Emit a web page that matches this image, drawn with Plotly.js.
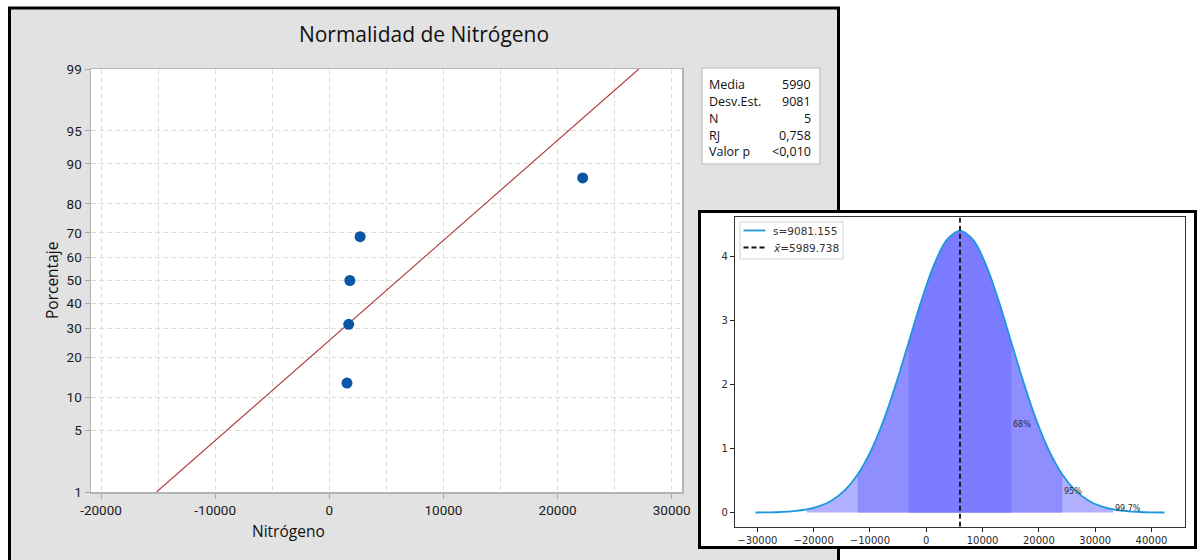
<!DOCTYPE html>
<html>
<head>
<meta charset="utf-8">
<script src="https://cdn.plot.ly/plotly-3.0.1.min.js"></script>
<style>
  html, body { margin: 0; padding: 0; background: #ffffff; }
  #chart { width: 1197px; height: 560px; }
</style>
</head>
<body>
<div id="chart"></div>
<script>
// ---- Normal probability plot: Nitrógeno ----
const nitrogeno = [1550, 1700, 1800, 2700, 22200];
const porcentaje = [12.96, 31.48, 50.00, 68.52, 87.04];
// fitted reference line (ends at 1 % and 99 %)
const ajusteX = [-15135, 27115];
const ajusteP = [1, 99];
const probTicks = [1, 5, 10, 20, 30, 40, 50, 60, 70, 80, 90, 95, 99];
const probTickText = ['1', '5', '10', '20', '30', '40', '50', '60', '70', '80', '90', '95', '99'];
const xTicksL = [-20000, -10000, 0, 10000, 20000, 30000];
const xTickTextL = ['-20000', '-10000', '0', '10000', '20000', '30000'];
const xGridL = [-20000, -15000, -10000, -5000, 0, 5000, 10000, 15000, 20000, 25000, 30000];
const statNames = ['Media', 'Desv.Est.', 'N', 'RJ', 'Valor p'];
const statValues = ['5990', '9081', '5', '0,758', '<0,010'];

// ---- Normal density (×1e5) with 68 / 95 / 99.7 % bands ----
const media = 5989.738;
const desv = 9081.155;
const curvaX = [-30335, -28065, -25794, -23524, -21254, -18983, -16713, -14443, -12173,
                -9902, -7632, -5362, -3091, -821, 1449, 3719, 5990, 8260, 10530, 12801,
                15071, 17341, 19612, 21882, 24152, 26422, 28693, 30963, 33233, 35504,
                37774, 40044, 42314];
const curvaY = [0.0015, 0.0039, 0.0096, 0.0223, 0.0488, 0.100, 0.193, 0.350, 0.595,
                0.950, 1.426, 2.011, 2.665, 3.316, 3.877, 4.258, 4.393, 4.258, 3.877, 3.316,
                2.665, 2.011, 1.426, 0.950, 0.595, 0.350, 0.193, 0.100, 0.0488, 0.0223,
                0.0096, 0.0039, 0.0015];
const bandaLo = [-21254, -12173, -3091];
const bandaHi = [33233, 24152, 15071];
const bandaColor = ['#b1b1ff', '#8e8eff', '#7b7bff'];
const bandaTexto = ['99.7%', '95%', '68%'];
const bandaTextoY = [0.07, 0.33, 1.38];
const xTicksR = [-30000, -20000, -10000, 0, 10000, 20000, 30000, 40000];
const xTickTextR = ['\u221230000', '\u221220000', '\u221210000', '0', '10000', '20000', '30000', '40000'];
const yRangeR = [-0.2197, 4.6128];
const leyenda = ['s=' + desv.toFixed(3), '<i>x\u0304</i>=' + media.toFixed(3)];

// inverse standard normal CDF (Acklam) for the probability axis
function probit(p) {
  const a = [-3.969683028665376e+01, 2.209460984245205e+02, -2.759285104469687e+02,
             1.383577518672690e+02, -3.066479806614716e+01, 2.506628277459239e+00];
  const b = [-5.447609879822406e+01, 1.615858368580409e+02, -1.556989798598866e+02,
             6.680131188771972e+01, -1.328068155288572e+01];
  const c = [-7.784894002430293e-03, -3.223964580411365e-01, -2.400758277161838e+00,
             -2.549732539343734e+00, 4.374664141464968e+00, 2.938163982698783e+00];
  const d = [7.784695709041462e-03, 3.224671290700398e-01, 2.445134137142996e+00,
             3.754408661907416e+00];
  const pl = 0.02425, ph = 1 - pl;
  let q, r;
  if (p < pl) {
    q = Math.sqrt(-2 * Math.log(p));
    return (((((c[0]*q+c[1])*q+c[2])*q+c[3])*q+c[4])*q+c[5]) / ((((d[0]*q+d[1])*q+d[2])*q+d[3])*q+1);
  }
  if (p <= ph) {
    q = p - 0.5; r = q * q;
    return (((((a[0]*r+a[1])*r+a[2])*r+a[3])*r+a[4])*r+a[5])*q / (((((b[0]*r+b[1])*r+b[2])*r+b[3])*r+b[4])*r+1);
  }
  q = Math.sqrt(-2 * Math.log(1 - p));
  return -(((((c[0]*q+c[1])*q+c[2])*q+c[3])*q+c[4])*q+c[5]) / ((((d[0]*q+d[1])*q+d[2])*q+d[3])*q+1);
}
const z = pct => probit(pct / 100);

// pixel helpers for the 1197 x 560 canvas
const W = 1197, H = 560;
const PX = v => v / W;
const PY = v => 1 - v / H;

const fTick = 'Roboto, Arial, sans-serif';
const fTitle = 'Open Sans, Noto Sans, sans-serif';
const fMpl = 'DejaVu Sans, sans-serif';

const traces = [];

// left panel: fitted line and observations
traces.push({
  x: ajusteX, y: ajusteP.map(z), xaxis: 'x', yaxis: 'y',
  mode: 'lines', line: { color: '#b03535', width: 1.1 }, hoverinfo: 'skip'
});
traces.push({
  x: nitrogeno, y: porcentaje.map(z), xaxis: 'x', yaxis: 'y',
  mode: 'markers', marker: { color: '#0a55a6', size: 11 }, hoverinfo: 'skip'
});

// right panel: shaded bands (widest first)
bandaLo.forEach((lo, i) => {
  const hi = bandaHi[i];
  const bx = [], by = [];
  curvaX.forEach((xv, j) => { if (xv >= lo && xv <= hi) { bx.push(xv); by.push(curvaY[j]); } });
  traces.push({
    x: bx, y: by, xaxis: 'x2', yaxis: 'y2',
    mode: 'lines', line: { width: 0, shape: 'spline' },
    fill: 'tozeroy', fillcolor: bandaColor[i], hoverinfo: 'skip'
  });
});
traces.push({
  x: curvaX, y: curvaY, xaxis: 'x2', yaxis: 'y2',
  mode: 'lines', line: { color: '#1b98de', width: 1.8, shape: 'spline' }, hoverinfo: 'skip'
});
traces.push({
  x: [media, media], y: yRangeR, xaxis: 'x2', yaxis: 'y2',
  mode: 'lines', line: { color: '#111111', width: 1.8, dash: '5px,3px' }, hoverinfo: 'skip'
});

const shapes = [
  // left panel background and frame
  { type: 'rect', xref: 'paper', yref: 'paper', layer: 'below',
    x0: PX(9.5), x1: PX(838.5), y0: PY(8), y1: PY(620),
    fillcolor: '#e2e2e2', line: { color: '#000000', width: 3 } },
  // left plot area
  { type: 'rect', xref: 'x domain', yref: 'y domain', layer: 'below',
    x0: 0, x1: 1, y0: 0, y1: 1, fillcolor: '#ffffff', line: { width: 0 } },
  // statistics box
  { type: 'rect', xref: 'paper', yref: 'paper', layer: 'below',
    x0: PX(702), x1: PX(820), y0: PY(68), y1: PY(164),
    fillcolor: '#ffffff', line: { color: '#b8b8b8', width: 1 } },
  // right panel background and frame
  { type: 'rect', xref: 'paper', yref: 'paper', layer: 'below',
    x0: PX(699.5), x1: PX(1195.5), y0: PY(211.5), y1: PY(547.5),
    fillcolor: '#ffffff', line: { color: '#000000', width: 3 } },
  // legend box of the right panel
  { type: 'rect', xref: 'paper', yref: 'paper', layer: 'above',
    x0: PX(740), x1: PX(843), y0: PY(222), y1: PY(259),
    fillcolor: 'rgba(255,255,255,0.85)', line: { color: '#d2d2d2', width: 1 } },
  // legend samples
  { type: 'line', xref: 'paper', yref: 'paper', layer: 'above',
    x0: PX(743.5), x1: PX(765.5), y0: PY(230.5), y1: PY(230.5),
    line: { color: '#1b98de', width: 1.8 } },
  { type: 'line', xref: 'paper', yref: 'paper', layer: 'above',
    x0: PX(743.5), x1: PX(765.5), y0: PY(247.5), y1: PY(247.5),
    line: { color: '#111111', width: 1.8, dash: '5px,3px' } }
];

const annotations = [];
// axis titles of the left panel
annotations.push({
  text: 'Nitrógeno', xref: 'paper', yref: 'paper', x: PX(288), y: PY(531),
  xanchor: 'center', yanchor: 'middle', showarrow: false,
  font: { family: fTitle, size: 15.5, color: '#111111' }
});
annotations.push({
  text: 'Porcentaje', xref: 'paper', yref: 'paper', x: PX(51.5), y: PY(280.5),
  xanchor: 'center', yanchor: 'middle', showarrow: false, textangle: -90,
  font: { family: fTitle, size: 15.5, color: '#111111' }
});
// statistics box rows
const rowY = [84, 101, 118, 135, 151.5];
statNames.forEach((n, i) => {
  annotations.push({
    text: n, xref: 'paper', yref: 'paper', x: PX(707), y: PY(rowY[i]),
    xanchor: 'left', yanchor: 'middle', showarrow: false,
    font: { family: fTitle, size: 12.5, color: '#111111' }
  });
  annotations.push({
    text: statValues[i], xref: 'paper', yref: 'paper', x: PX(813), y: PY(rowY[i]),
    xanchor: 'right', yanchor: 'middle', showarrow: false,
    font: { family: fTitle, size: 12.5, color: '#111111' }
  });
});
// band labels
bandaTexto.forEach((t, i) => {
  annotations.push({
    text: t, xref: 'x2', yref: 'y2', x: bandaHi[i], y: bandaTextoY[i],
    xanchor: 'left', yanchor: 'middle', showarrow: false,
    font: { family: fMpl, size: 8, color: '#2a2a3a' }
  });
});
// legend entries
const legY = [230.5, 247.5];
leyenda.forEach((t, i) => {
  annotations.push({
    text: t, xref: 'paper', yref: 'paper', x: PX(771), y: PY(legY[i]),
    xanchor: 'left', yanchor: 'middle', showarrow: false,
    font: { family: fMpl, size: 10.5, color: '#333333' }
  });
});

const layout = {
  width: W, height: H,
  margin: { l: 0, r: 0, t: 0, b: 0, pad: 0 },
  paper_bgcolor: '#ffffff',
  plot_bgcolor: 'rgba(0,0,0,0)',
  showlegend: false,
  hovermode: false,
  title: {
    text: 'Normalidad de Nitrógeno',
    x: PX(424), xanchor: 'center', y: PY(35), yanchor: 'middle',
    font: { family: fTitle, size: 21, color: '#111111' }
  },
  xaxis: {
    domain: [PX(91), PX(682)], anchor: 'y',
    range: [-20880, 30900],
    tickmode: 'array', tickvals: xTicksL, ticktext: xTickTextL,
    ticks: 'outside', ticklen: 5, tickcolor: '#a8a8a8', tickwidth: 1,
    tickfont: { family: fTick, size: 13.5, color: '#1a1a1a' },
    showline: true, linecolor: '#b4b4b4', linewidth: 1.5, mirror: true,
    showgrid: false, zeroline: false,
    minor: { tickmode: 'array', tickvals: xGridL, showgrid: true, gridcolor: '#dcdcdc',
             griddash: '5px,3px', gridwidth: 1, ticks: '' }
  },
  yaxis: {
    domain: [PY(492), PY(69)], anchor: 'x',
    range: [z(1), z(99)],
    tickmode: 'array', tickvals: probTicks.map(z), ticktext: probTickText,
    ticks: 'outside', ticklen: 5, tickcolor: '#a8a8a8', tickwidth: 1,
    tickfont: { family: fTick, size: 13.5, color: '#1a1a1a' },
    showline: true, linecolor: '#b4b4b4', linewidth: 1.5, mirror: true,
    showgrid: true, gridcolor: '#dcdcdc', griddash: '5px,3px', gridwidth: 1,
    zeroline: false
  },
  xaxis2: {
    domain: [PX(735), PX(1185)], anchor: 'y2',
    range: [-33967, 45947],
    tickmode: 'array', tickvals: xTicksR, ticktext: xTickTextR,
    ticks: 'outside', ticklen: 4, tickcolor: '#222222', tickwidth: 1,
    tickfont: { family: fMpl, size: 10, color: '#2a2a2a' },
    showline: true, linecolor: '#333333', linewidth: 1.2, mirror: true,
    showgrid: false, zeroline: false
  },
  yaxis2: {
    domain: [PY(526.7), PY(216.7)], anchor: 'x2',
    range: yRangeR,
    tickmode: 'array', tickvals: [0, 1, 2, 3, 4], ticktext: ['0', '1', '2', '3', '4'],
    ticks: 'outside', ticklen: 4, tickcolor: '#222222', tickwidth: 1,
    tickfont: { family: fMpl, size: 10, color: '#2a2a2a' },
    showline: true, linecolor: '#333333', linewidth: 1.2, mirror: true,
    showgrid: false, zeroline: false
  },
  shapes: shapes,
  annotations: annotations
};

Plotly.newPlot('chart', traces, layout, { staticPlot: true, displayModeBar: false });
</script>
</body>
</html>
